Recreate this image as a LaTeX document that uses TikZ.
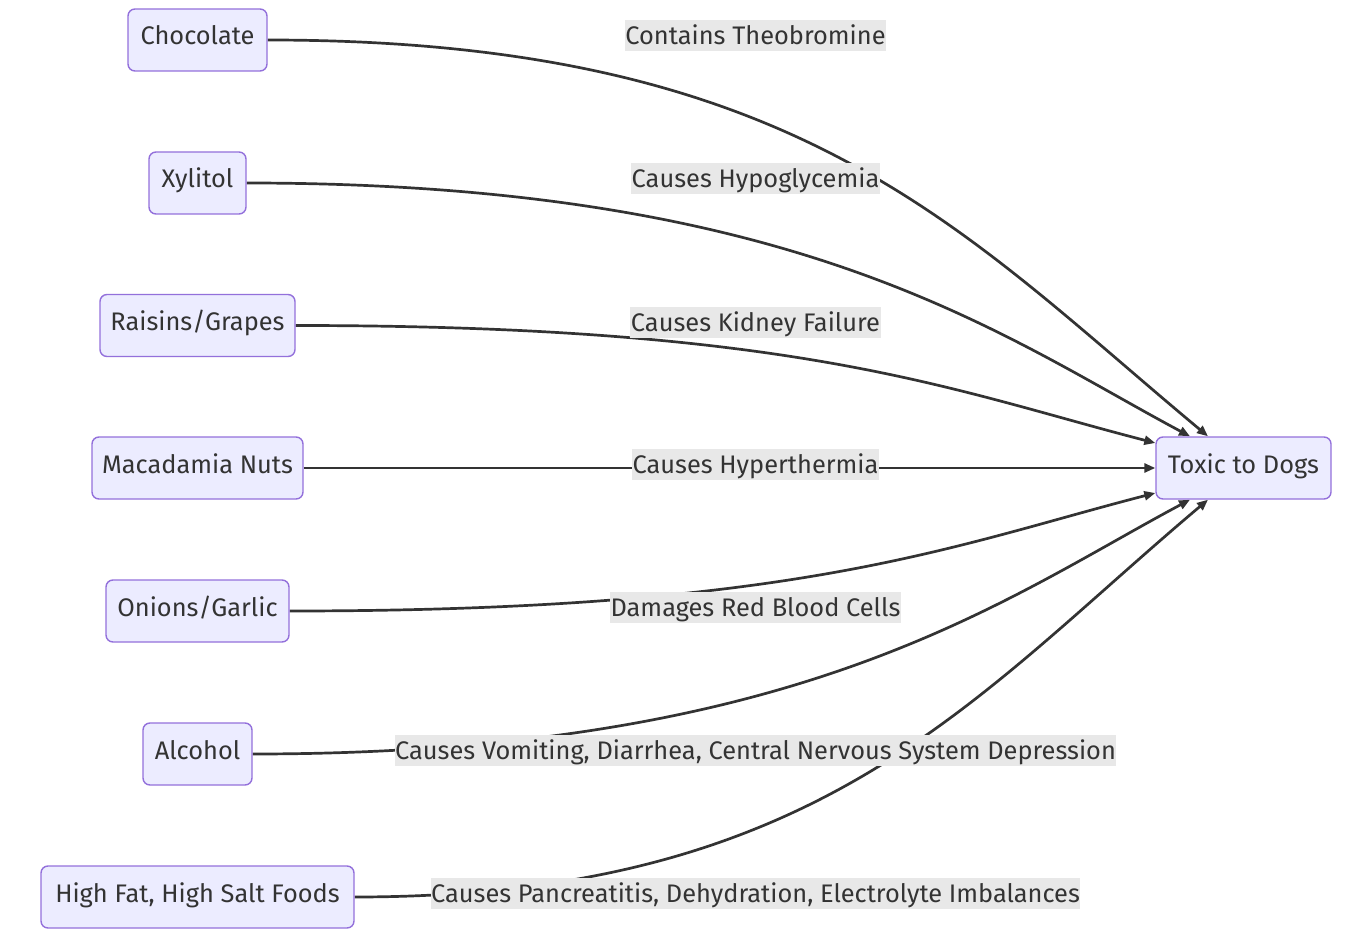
\documentclass[tikz,border=0pt]{standalone}
\usepackage{fontspec}
\setmainfont{Fira Sans}
\usetikzlibrary{arrows.meta,backgrounds,calc}
\definecolor{nodefill}{HTML}{ECECFF}
\definecolor{nodeborder}{HTML}{9370DB}
\definecolor{edgecol}{HTML}{333333}
\definecolor{labelbg}{HTML}{E8E8E8}
\definecolor{textcol}{HTML}{333333}
\begin{document}
\begin{tikzpicture}[x=1pt,y=-1pt,
  food/.style={draw=nodeborder, fill=nodefill, line width=1.4pt, rounded corners=7pt,
    minimum height=62pt, inner sep=0pt, text height=18pt, text depth=8pt,
    font=\fontsize{25.4}{30}\selectfont, text=textcol},
  lbl/.style={fill=labelbg, inner xsep=0.5pt, inner ysep=0pt, minimum height=31pt,
    text height=18pt, text depth=0pt,
    font=\fontsize{25.4}{30}\selectfont, text=textcol},
  link/.style={draw=edgecol, line width=2.7pt, -{Triangle[length=11pt,width=9pt]}}]
\useasboundingbox (0,0) rectangle (1365,936);
% nodes
\node[food, minimum width=139pt] (choc) at (197.5,40) {Chocolate};
\node[food, minimum width=97pt] (xyl) at (197.5,183) {Xylitol};
\node[food, minimum width=195pt] (rais) at (197.5,325.5) {Raisins/Grapes};
\node[food, minimum width=211pt] (maca) at (197.5,468) {Macadamia Nuts};
\node[food, minimum width=183pt] (onion) at (197.5,611) {Onions/Garlic};
\node[food, minimum width=109pt] (alc) at (197.5,754) {Alcohol};
\node[food, minimum width=313pt] (fat) at (197.5,897) {High Fat, High Salt Foods};
\node[food, minimum width=175pt] (toxic) at (1243.5,468) {Toxic to Dogs};
% labels
\node[lbl] (l1) at (755.5,36) {Contains Theobromine};
\node[lbl] (l2) at (755.5,179) {Causes Hypoglycemia};
\node[lbl] (l3) at (755.5,322) {Causes Kidney Failure};
\node[lbl] (l4) at (755.5,464) {Causes Hyperthermia};
\node[lbl] (l5) at (755.5,607) {Damages Red Blood Cells};
\node[lbl] (l6) at (755.5,750) {Causes Vomiting, Diarrhea, Central Nervous System Depression};
\node[lbl] (l7) at (755.5,893) {Causes Pancreatitis, Dehydration, Electrolyte Imbalances};
% edges
\begin{pgfonlayer}{background}
\draw[link] (choc.east) .. controls (800,40) and (960,230) .. ([xshift=-35.5pt]toxic.north);
\draw[link] (xyl.east) .. controls (800,183) and (1000,335) .. ([xshift=-53.5pt]toxic.north);
\draw[link] (rais.east) .. controls (800,325.5) and (950,390) .. ([yshift=25pt]toxic.west);
\draw[link] (maca.east) -- (toxic.west);
\draw[link] (onion.east) .. controls (800,611) and (950,546) .. ([yshift=-25pt]toxic.west);
\draw[link] (alc.east) .. controls (800,754) and (1000,601) .. ([xshift=-53.5pt]toxic.south);
\draw[link] (fat.east) .. controls (820,897) and (970,700) .. ([xshift=-35.5pt]toxic.south);
\end{pgfonlayer}
\end{tikzpicture}
\end{document}
